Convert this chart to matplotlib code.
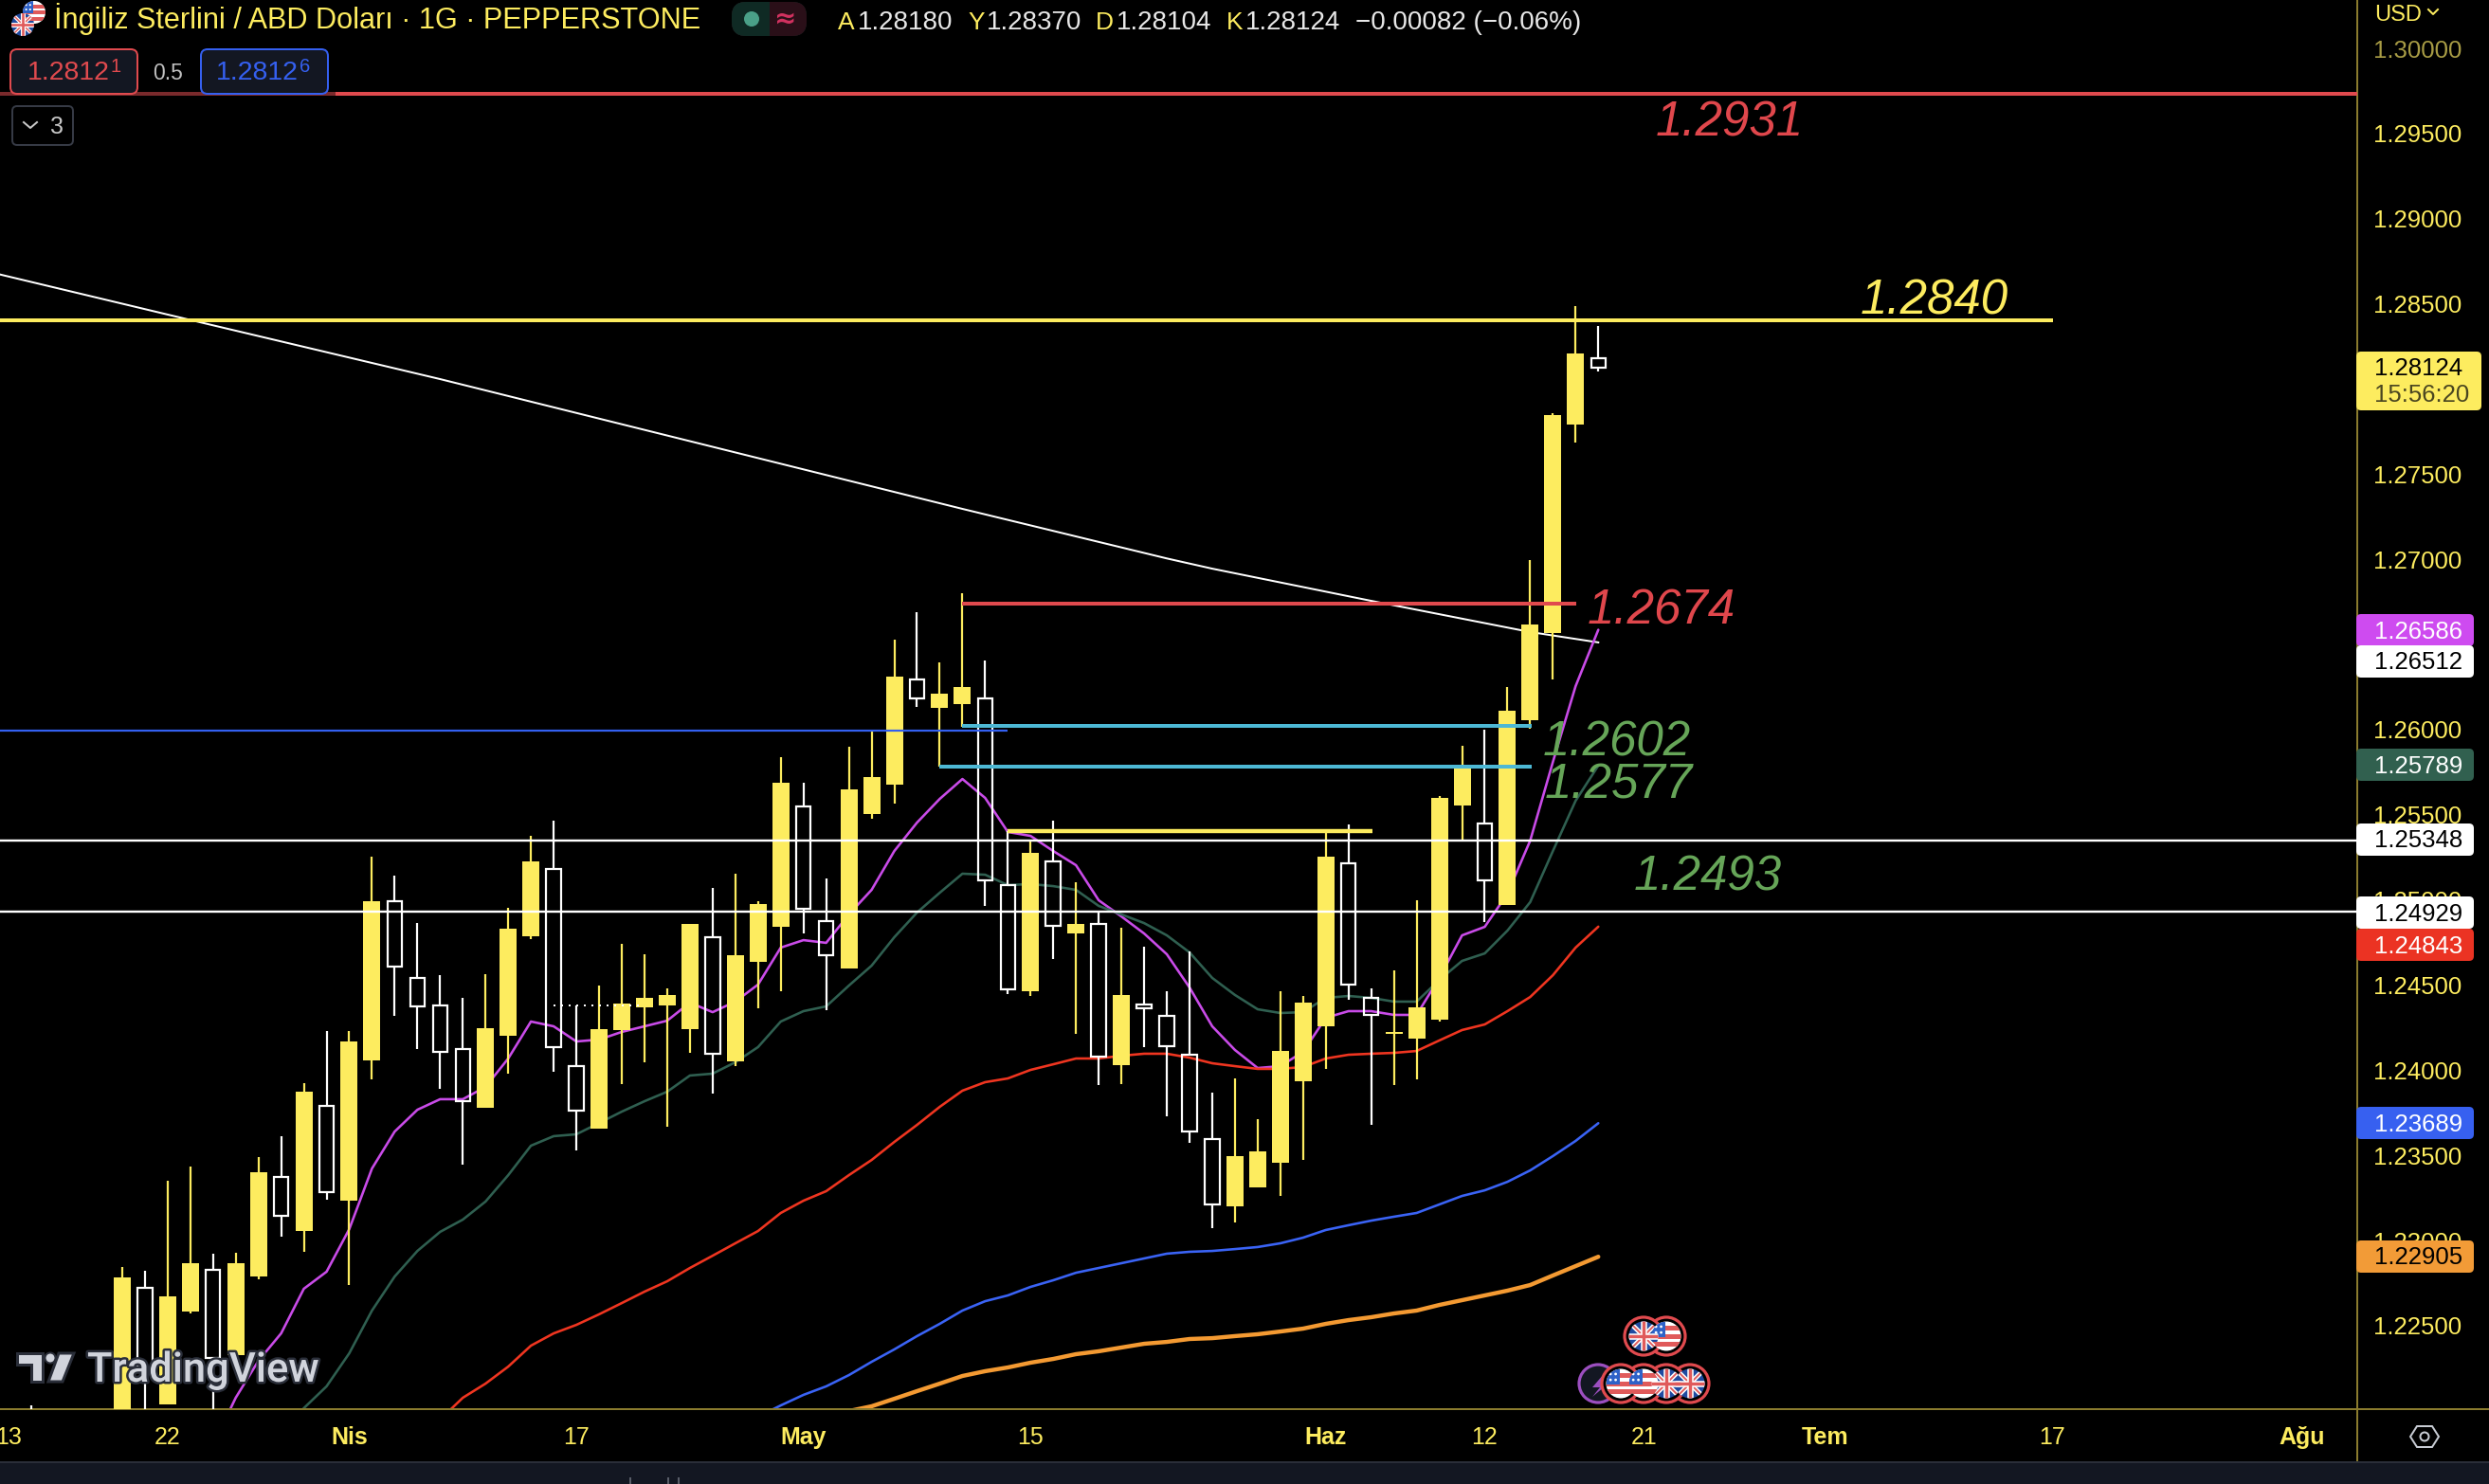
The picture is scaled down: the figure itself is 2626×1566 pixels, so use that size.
import matplotlib
matplotlib.use("Agg")
import matplotlib.pyplot as plt
import matplotlib.patheffects as pe
from matplotlib.patches import Circle, FancyBboxPatch, Polygon, Rectangle

# ---------- data ----------
bar_index = [-6, -2, -1] + list(range(0, 64))
open_ = [1.2195, 1.2190, 1.22722, 1.22038, 1.22583, 1.22828, 1.22327, 1.22789, 1.23373, 1.23056, 1.23791,
         1.23234, 1.24058, 1.24992, 1.24542, 1.2438, 1.24124, 1.2378, 1.24202, 1.24787, 1.25182, 1.24024,
         1.23657, 1.24236, 1.24369, 1.2438, 1.24241, 1.24781, 1.24052, 1.24636, 1.24842, 1.25549, 1.24876,
         1.24597, 1.25504, 1.25677, 1.26294, 1.26127, 1.2615, 1.26183, 1.25087, 1.24464, 1.25226, 1.24803,
         1.24859, 1.2403, 1.24386, 1.24319, 1.24091, 1.23596, 1.23201, 1.23312, 1.23457, 1.23935, 1.24258,
         1.25215, 1.24425, 1.24213, 1.24186, 1.24297, 1.25554, 1.25449, 1.2497, 1.26055, 1.26567, 1.27791, 1.28180]
high = [1.22032, 1.22845, 1.22822, 1.23351, 1.23434, 1.22923, 1.22928, 1.2349, 1.23613, 1.23924, 1.2423,
        1.2423, 1.25254, 1.25143, 1.24864, 1.24558, 1.24425, 1.24564, 1.24953, 1.25376, 1.25465, 1.2438,
        1.24497, 1.24742, 1.24681, 1.2448, 1.24859, 1.2507, 1.25154, 1.24992, 1.25838, 1.25688, 1.25126,
        1.25899, 1.25988, 1.26528, 1.26689, 1.26394, 1.26801, 1.26406, 1.25404, 1.25348, 1.25465, 1.25104,
        1.24926, 1.24837, 1.24725, 1.24464, 1.24697, 1.23868, 1.23952, 1.23713, 1.24464, 1.24436, 1.25399,
        1.25443, 1.2448, 1.24586, 1.24998, 1.2561, 1.25905, 1.25999, 1.2625, 1.26995, 1.27858, 1.28487, 1.28370]
low = [1.2180, 1.2185, 1.2190, 1.22038, 1.22572, 1.2190, 1.22327, 1.22772, 1.23023, 1.22934, 1.2324,
       1.22739, 1.23946, 1.24319, 1.24124, 1.23891, 1.23446, 1.2378, 1.2398, 1.2477, 1.23991, 1.23529,
       1.23657, 1.23919, 1.24047, 1.23668, 1.24102, 1.23863, 1.24024, 1.24364, 1.24464, 1.24803, 1.24353,
       1.24597, 1.25476, 1.25565, 1.26133, 1.25782, 1.26016, 1.24965, 1.24447, 1.24436, 1.24653, 1.24213,
       1.23913, 1.23919, 1.24136, 1.23729, 1.23574, 1.23073, 1.23106, 1.23312, 1.23262, 1.23473, 1.24008,
       1.24414, 1.23679, 1.23913, 1.23946, 1.24286, 1.25343, 1.2487, 1.2497, 1.26005, 1.26294, 1.27685, 1.28104]
close = [1.2185, 1.22784, 1.22244, 1.22672, 1.22867, 1.22311, 1.22867, 1.23401, 1.23145, 1.23874, 1.23284,
         1.24169, 1.24992, 1.24609, 1.24375, 1.24108, 1.23818, 1.24247, 1.24831, 1.25226, 1.24136, 1.23763,
         1.24241, 1.24391, 1.24425, 1.24442, 1.24859, 1.24097, 1.24675, 1.24976, 1.25688, 1.24948, 1.24675,
         1.25649, 1.25721, 1.26311, 1.26183, 1.26211, 1.2625, 1.25115, 1.24475, 1.25276, 1.24848, 1.24859,
         1.2408, 1.24442, 1.24364, 1.24141, 1.2364, 1.23212, 1.23496, 1.23524, 1.24113, 1.24397, 1.25254,
         1.24503, 1.24325, 1.24225, 1.24369, 1.25599, 1.25771, 1.25115, 1.26111, 1.26617, 1.27847, 1.28208, 1.28124]

magenta_start = 2
magenta = [1.21799, 1.22077, 1.22294, 1.22455, 1.22717, 1.22817, 1.23067, 1.23423, 1.2364, 1.23768, 1.2383, 1.2383,
           1.23902, 1.24069, 1.24286, 1.24258, 1.24169, 1.2418, 1.24225, 1.24258, 1.24291, 1.24397, 1.24341, 1.24403,
           1.24503, 1.2472, 1.24764, 1.24748, 1.24915, 1.25059, 1.25287, 1.25454, 1.25593, 1.2571, 1.25599, 1.25399,
           1.25376, 1.25287, 1.25204, 1.24998, 1.24903, 1.24803, 1.24681, 1.24486, 1.24258, 1.24119, 1.24013, 1.24024,
           1.24108, 1.24308, 1.24347, 1.24347, 1.24325, 1.24325, 1.24542, 1.24792, 1.24842, 1.25037, 1.25348, 1.2581,
           1.26255, 1.26586]
green_start = 5
green = [1.21854, 1.22016, 1.22144, 1.22338, 1.22589, 1.22789, 1.22939, 1.23051, 1.23123, 1.23229, 1.23384, 1.23557,
         1.23613, 1.23624, 1.2369, 1.23757, 1.23818, 1.23874, 1.23969, 1.2398, 1.24047, 1.24136, 1.24286, 1.24347,
         1.24375, 1.24497, 1.24614, 1.24781, 1.24926, 1.25042, 1.25154, 1.25148, 1.25087, 1.25093, 1.25081, 1.25059,
         1.24965, 1.24915, 1.24864, 1.24792, 1.24692, 1.24542, 1.24442, 1.24358, 1.24336, 1.24341, 1.24425, 1.24436,
         1.24425, 1.24403, 1.24403, 1.2453, 1.24642, 1.24686, 1.2482, 1.24987, 1.25287, 1.25582, 1.25789]
red_start = 11
red = [1.21854, 1.21949, 1.22077, 1.2216, 1.2226, 1.22383, 1.22455, 1.22505, 1.22567, 1.22633, 1.227, 1.22761, 1.22839,
       1.22911, 1.22984, 1.23056, 1.23162, 1.23234, 1.2329, 1.23384, 1.23473, 1.23579, 1.23679, 1.23785, 1.2388, 1.2393,
       1.23952, 1.24002, 1.24035, 1.24069, 1.24069, 1.24085, 1.24097, 1.24097, 1.24074, 1.24041, 1.24024, 1.24008,
       1.24008, 1.24019, 1.24069, 1.24091, 1.24097, 1.24102, 1.24113, 1.24175, 1.24236, 1.24269, 1.24347, 1.2443,
       1.24558, 1.2472, 1.24843]
blue_start = 26
blue = [1.21966, 1.22032, 1.22094, 1.22144, 1.2221, 1.22288, 1.22361, 1.22439, 1.22511, 1.22589, 1.22644, 1.22678,
        1.22728, 1.22767, 1.22811, 1.22839, 1.22867, 1.22895, 1.22923, 1.22934, 1.22939, 1.2295, 1.22962, 1.22984,
        1.23017, 1.23062, 1.2309, 1.23117, 1.2314, 1.23162, 1.23212, 1.23262, 1.23295, 1.23345, 1.23412, 1.23496,
        1.23585, 1.23689]
orange_start = 30
orange = [1.21999, 1.22027, 1.22071, 1.22116, 1.2216, 1.22205, 1.22233, 1.22255, 1.22283, 1.22305, 1.22333, 1.2235,
          1.22372, 1.22394, 1.22405, 1.22422, 1.22427, 1.22439, 1.2245, 1.22466, 1.22483, 1.22511, 1.22533, 1.2255,
          1.22572, 1.22589, 1.22622, 1.2265, 1.22678, 1.22706, 1.22739, 1.22795, 1.2285, 1.22905]
white_bars = [-8, 0, 12, 35, 44, 46, 53, 60, 63]
white_ma = [1.28692, 1.28437, 1.28058, 1.27296, 1.27005, 1.26945, 1.26756, 1.26573, 1.26512]

y_ticks = [1.30, 1.295, 1.29, 1.285, 1.28, 1.275, 1.27, 1.265, 1.26, 1.255, 1.25, 1.245, 1.24, 1.235, 1.23, 1.225]
hidden_y_ticks = [1.28, 1.265]
x_tick_bars = [-7, 0, 8, 18, 28, 38, 51, 58, 65, 73, 83, 94]
x_tick_labels = ["13", "22", "Nis", "17", "May", "15", "Haz", "12", "21", "Tem", "17", "Ağu"]
x_tick_bold = ["Nis", "May", "Haz", "Tem", "Ağu"]

level_red_top = 1.29733
level_yellow = 1.28403
level_red_mid = 1.26740
level_cyan_up = 1.26022
level_cyan_dn = 1.25782
level_yellow_mid = 1.25404
level_white_up = 1.25348
level_white_dn = 1.24929
level_blue = 1.25994
level_dotted = 1.2438

note_texts = ["1.2931", "1.2840", "1.2674", "1.2602", "1.2577", "1.2493"]
note_bars = [65.5, 74.55, 62.5, 60.56, 60.64, 64.56]
note_prices = [1.29560, 1.28516, 1.26695, 1.25922, 1.25673, 1.25132]

price_tags = ["1.26586", "1.26512", "1.25789", "1.25348", "1.24929", "1.24843", "1.23689", "1.22905"]
price_tag_centres = [665, 698, 807, 886, 963, 997, 1185, 1326]
price_tag_fill = ["#CE4BF0", "#FFFFFF", "#31604F", "#FFFFFF", "#FFFFFF", "#EB3323", "#3760F0", "#F29B37"]
price_tag_text = ["#FFFFFF", "#000000", "#FFFFFF", "#000000", "#000000", "#FFFFFF", "#FFFFFF", "#000000"]

# ---------- styling ----------
YEL = "#FDEC5F"
AXC = "#8A7B2E"
PX = 0.72
W, H = 2626, 1566
BAR0, BARW = 176.8, 23.96
TOP_PX, BOTTOM_PX = 0, 1487
PRICE_PER_PX = 1 / 17973
FONT = "Liberation Sans"
plt.rcParams["font.family"] = [FONT, "DejaVu Sans"]

fig = plt.figure(figsize=(W / 100, H / 100), dpi=100, facecolor="black")
ax = fig.add_axes([0, (H - BOTTOM_PX) / H, 2487 / W, BOTTOM_PX / H], facecolor="black")
ax.set_xlim((0 - BAR0) / BARW, (2487 - BAR0) / BARW)
ax.set_ylim(1.30 - (BOTTOM_PX - 51) * PRICE_PER_PX, 1.30 + 51 * PRICE_PER_PX)

for s in ["top", "left"]:
    ax.spines[s].set_visible(False)
for s in ["right", "bottom"]:
    ax.spines[s].set_color(AXC)
    ax.spines[s].set_linewidth(2 * PX)

ax.yaxis.tick_right()
ax.set_yticks([t for t in y_ticks if t not in hidden_y_ticks])
ax.set_yticklabels([f"{t:.5f}" for t in y_ticks if t not in hidden_y_ticks])
ax.tick_params(axis="y", length=0, pad=12.5, labelsize=18.5, labelcolor=YEL)
ax.get_yticklabels()[0].set_color("#A89C45")
ax.set_xticks(x_tick_bars)
ax.set_xticklabels(x_tick_labels)
ax.tick_params(axis="x", length=0, pad=13, labelsize=18, labelcolor=YEL)
for lab in ax.get_xticklabels():
    if lab.get_text() in x_tick_bold:
        lab.set_fontweight("bold")


def ma(start, values, colour, px, z=2):
    ax.plot(range(start, start + len(values)), values, color=colour, lw=px * PX, zorder=z,
            solid_joinstyle="round", solid_capstyle="round")


ax.plot(white_bars, white_ma, color="white", lw=2 * PX, zorder=2)
ma(magenta_start, magenta, "#C94BE8", 2.6)
ma(green_start, green, "#2F5F50", 2.6)
ma(red_start, red, "#EF3520", 2.6)
ma(blue_start, blue, "#3A63F5", 2.6)
ma(orange_start, orange, "#F49A32", 4.4)

for b, o, h, l, c in zip(bar_index, open_, high, low, close):
    up = c >= o
    top, bot = max(o, c), min(o, c)
    col = YEL if up else "white"
    if h > top:
        ax.vlines(b, top, h, color=col, lw=2.2 * PX, zorder=3)
    if l < bot:
        ax.vlines(b, l, bot, color=col, lw=2.2 * PX, zorder=3)
    if up:
        ax.bar(b, top - bot, bottom=bot, width=18 / BARW, color=YEL, lw=0, zorder=3)
    else:
        ax.bar(b, top - bot, bottom=bot, width=15.5 / BARW, facecolor="none",
               edgecolor="white", lw=2.2 * PX, zorder=3, joinstyle="miter")

xmin, xmax = ax.get_xlim()
ax.hlines(level_red_top, xmin, xmax, color="#E04A4E", lw=4 * PX, zorder=4)
ax.hlines(level_red_top, xmin, 7.4, color="#7A2A2C", lw=4 * PX, zorder=4.1)
ax.hlines(level_yellow, xmin, 83.03, color=YEL, lw=4 * PX, zorder=4)
ax.hlines(level_red_mid, 35, 62.04, color="#E04A4E", lw=4 * PX, zorder=4)
ax.hlines(level_cyan_up, 35, 60.08, color="#4DB8D4", lw=4 * PX, zorder=4)
ax.hlines(level_cyan_dn, 34, 60.08, color="#4DB8D4", lw=4 * PX, zorder=4)
ax.hlines(level_yellow_mid, 37, 53.05, color=YEL, lw=4.4 * PX, zorder=4)
ax.hlines([level_white_up, level_white_dn], xmin, xmax, color="white", lw=2.4 * PX, zorder=4)
ax.hlines(level_blue, xmin, 37, color="#3360F0", lw=2.2 * PX, zorder=4)
ax.plot([17, 20.8], [level_dotted, level_dotted], color="white", lw=2 * PX, ls=(0, (1, 3)), zorder=4)

note_cols = ["#E0474C", YEL, "#E0474C", "#66A558", "#66A558", "#66A558"]
for t, b, p, c in zip(note_texts, note_bars, note_prices, note_cols):
    ax.text(b, p, t, color=c, fontsize=36.8, style="italic", va="center", ha="left", zorder=5)

# ---------- overlay in pixel coordinates (tags, header, logos) ----------
ui = fig.add_axes([0, 0, 1, 1], facecolor="none")
ui.set_xlim(0, W)
ui.set_ylim(H, 0)
ui.axis("off")

ui.plot([2487, 2487], [1487, 1543], color=AXC, lw=2 * PX)
ui.plot([2487, W], [1487, 1487], color=AXC, lw=2 * PX)
ui.add_patch(Rectangle((0, 1543), W, 23, fc="#131722", ec="none"))
ui.plot([0, W], [1543, 1543], color="#2A2E39", lw=2 * PX)
ui.plot([665, 665], [1560, 1566], color="#5A5E69", lw=2 * PX)
ui.plot([705, 705], [1560, 1566], color="#5A5E69", lw=2 * PX)
ui.plot([716, 716], [1560, 1566], color="#5A5E69", lw=2 * PX)

ui.text(2505, 16, "USD", color=YEL, fontsize=17, va="center", ha="left")
ui.plot([2562, 2567, 2572], [10, 15, 10], color=YEL, lw=2 * PX)

for txt, cy, fc, tc in zip(price_tags, price_tag_centres, price_tag_fill, price_tag_text):
    ui.add_patch(FancyBboxPatch((2486, cy - 17), 124, 34, boxstyle="round,pad=0,rounding_size=5", fc=fc, ec="none"))
    ui.text(2505, cy + 1.5, txt, color=tc, fontsize=18.5, va="center", ha="left")
ui.add_patch(FancyBboxPatch((2486, 371), 132, 62, boxstyle="round,pad=0,rounding_size=5", fc=YEL, ec="none"))
ui.text(2505, 389.5, "1.28124", color="black", fontsize=18.5, va="center", ha="left")
ui.text(2505, 417.5, "15:56:20", color="#4A4620", fontsize=18.5, va="center", ha="left")

# settings icon
ui.add_patch(Polygon([(2543, 1516), (2550, 1505), (2566, 1505), (2573, 1516), (2566, 1527), (2550, 1527)],
                     closed=True, fc="none", ec="#C8CCD4", lw=2 * PX))
ui.add_patch(Circle((2558, 1516), 4.5, fc="none", ec="#C8CCD4", lw=2 * PX))


def flag(x, y, kind, r, border=True):
    inner = r
    if border:
        ui.add_patch(Circle((x, y), r, fc="black", ec="#E04A4E", lw=3.2 * PX, zorder=6))
        inner = r - 4.5
    disc = Circle((x, y), inner, fc="white" if kind == "us" else "#1F4AA0", ec="none", zorder=6.1)
    ui.add_patch(disc)
    arts = []
    s = inner
    if kind == "us":
        for k in [-0.7, -0.15, 0.4]:
            arts.append(ui.add_patch(Rectangle((x - s, y + k * s), 2 * s, 0.33 * s, fc="#E05A5A", ec="none", zorder=6.2)))
        arts.append(ui.add_patch(Rectangle((x - s, y - s), s * 0.95, s * 1.05, fc="#2E62C8", ec="none", zorder=6.3)))
        for dx in [-0.7, -0.35]:
            for dy in [-0.65, -0.25]:
                arts.append(ui.add_patch(Circle((x + dx * s, y + dy * s), 0.09 * s, fc="white", ec="none", zorder=6.4)))
    else:
        for sx in [1, -1]:
            arts += ui.plot([x - s, x + s], [y - sx * s, y + sx * s], color="white", lw=0.32 * s * PX, zorder=6.2)
            arts += ui.plot([x - s, x + s], [y - sx * s, y + sx * s], color="#E05A5A", lw=0.12 * s * PX, zorder=6.25)
        arts += ui.plot([x - s, x + s], [y, y], color="white", lw=0.42 * s * PX, zorder=6.3)
        arts += ui.plot([x, x], [y - s, y + s], color="white", lw=0.42 * s * PX, zorder=6.3)
        arts += ui.plot([x - s, x + s], [y, y], color="#E05A5A", lw=0.22 * s * PX, zorder=6.4)
        arts += ui.plot([x, x], [y - s, y + s], color="#E05A5A", lw=0.22 * s * PX, zorder=6.4)
    for a in arts:
        a.set_clip_path(disc)


# header
flag(36, 13, "us", 12, border=False)
flag(24, 26, "uk", 12, border=False)
ui.text(57, 20, "İngiliz Sterlini / ABD Doları · 1G · PEPPERSTONE", color=YEL, fontsize=22.1, va="center", ha="left")
ui.add_patch(FancyBboxPatch((772, 2), 79, 36, boxstyle="round,pad=0,rounding_size=15", fc="#0F2A24", ec="none"))
clip_pill = FancyBboxPatch((772, 2), 79, 36, boxstyle="round,pad=0,rounding_size=15", fc="#2A0F18", ec="none")
ui.add_patch(clip_pill)
left_half = ui.add_patch(Rectangle((772, 2), 40, 36, fc="#0F2A24", ec="none"))
left_half.set_clip_path(clip_pill)
ui.add_patch(Circle((793, 20), 8, fc="#4AA088", ec="none"))
ui.text(829, 20, "≈", color="#D0315F", fontsize=20, va="center", ha="center", fontweight="bold",
        family=["DejaVu Sans"])

ohlc_letters = ["A", "Y", "D", "K"]
ohlc_vals = ["1.28180", "1.28370", "1.28104", "1.28124"]
ohlc_letter_x = [884, 1021, 1156, 1294]
ohlc_val_x = [905, 1041, 1178, 1314]
for l, lx, v, vx in zip(ohlc_letters, ohlc_letter_x, ohlc_vals, ohlc_val_x):
    ui.text(lx, 24, l, color=YEL, fontsize=19, va="center", ha="left")
    ui.text(vx, 24, v, color="#E8E8E8", fontsize=20, va="center", ha="left")
ui.text(1430, 24, "−0.00082 (−0.06%)", color="#E8E8E8", fontsize=20, va="center", ha="left")

# buttons
ui.add_patch(FancyBboxPatch((11, 52), 134, 47, boxstyle="round,pad=0,rounding_size=7", fc="#131722", ec="#E04A4E", lw=2 * PX, zorder=5))
ui.text(29, 77, "1.2812", color="#E04A4E", fontsize=20.5, va="center", ha="left", zorder=5.1)
ui.text(116, 71, "1", color="#E04A4E", fontsize=14.5, va="center", ha="left", zorder=5.1)
ui.text(161, 77, "0.5", color="#C0C0C0", fontsize=16.5, va="center", ha="left")
ui.add_patch(FancyBboxPatch((212, 52), 134, 47, boxstyle="round,pad=0,rounding_size=7", fc="#131722", ec="#3560F0", lw=2 * PX, zorder=5))
ui.text(228, 77, "1.2812", color="#3560F0", fontsize=20.5, va="center", ha="left", zorder=5.1)
ui.text(316, 71, "6", color="#3560F0", fontsize=14.5, va="center", ha="left", zorder=5.1)
ui.add_patch(FancyBboxPatch((13, 112), 64, 41, boxstyle="round,pad=0,rounding_size=5", fc="black", ec="#363A45", lw=2 * PX))
ui.plot([25, 32, 39], [129, 135, 129], color="#C8C8C8", lw=2 * PX)
ui.text(60, 134, "3", color="#C8C8C8", fontsize=18, va="center", ha="center")

# watermark
stroke = [pe.withStroke(linewidth=5 * PX, foreground="#2A2E39")]
ui.add_patch(Polygon([(18, 1428), (45, 1428), (45, 1458), (33, 1458), (33, 1440), (18, 1440)], closed=True,
                     fc="#D1D4DC", ec="#2A2E39", lw=3 * PX, zorder=7))
ui.add_patch(Circle((53, 1433), 5.5, fc="#D1D4DC", ec="#2A2E39", lw=2 * PX, zorder=7))
ui.add_patch(Polygon([(62, 1428), (78, 1428), (66, 1458), (51, 1458)], closed=True, fc="#D1D4DC", ec="#2A2E39", lw=3 * PX, zorder=7))
ui.text(92, 1458, "TradingView", color="#D1D4DC", fontsize=31.3, family="Roboto", fontweight=500,
        va="baseline", ha="left", path_effects=stroke, zorder=7)

# event markers
flag(1758, 1410, "us", 20)
flag(1734, 1410, "uk", 20)
ui.add_patch(Circle((1686, 1460), 20, fc="#131722", ec="#9C4FC0", lw=3.2 * PX, zorder=5.5))
ui.add_patch(Polygon([(1692, 1450), (1680, 1464), (1688, 1464), (1680, 1474), (1698, 1459), (1689, 1459)],
                     closed=True, fc="#9C4FC0", ec="none", zorder=5.6))
flag(1783, 1460, "uk", 20)
flag(1758, 1460, "uk", 20)
flag(1734, 1460, "us", 20)
flag(1710, 1460, "us", 20)

fig.savefig("out.png", dpi=100, facecolor="black")
